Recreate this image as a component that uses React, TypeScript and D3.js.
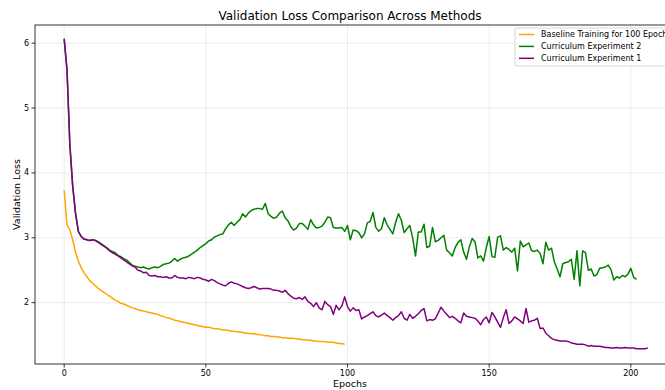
import { useEffect, useRef } from "react";
import * as d3 from "d3";

const baseline = [
  3.73, 3.2, 3.12, 2.97, 2.78, 2.64, 2.54, 2.46, 2.4, 2.34,
  2.3, 2.26, 2.22, 2.19, 2.16, 2.13, 2.1, 2.07, 2.04, 2.02,
  1.99, 1.98, 1.96, 1.94, 1.92, 1.91, 1.89, 1.88, 1.87, 1.86,
  1.85, 1.84, 1.83, 1.82, 1.8, 1.79, 1.77, 1.76, 1.75, 1.73,
  1.72, 1.71, 1.7, 1.69, 1.68, 1.67, 1.66, 1.65, 1.64, 1.63,
  1.62, 1.62, 1.61, 1.6, 1.6, 1.59, 1.58, 1.58, 1.57, 1.56,
  1.56, 1.55, 1.55, 1.54, 1.53, 1.53, 1.52, 1.52, 1.51, 1.51,
  1.5, 1.49, 1.49, 1.48, 1.48, 1.47, 1.47, 1.46, 1.46, 1.45,
  1.45, 1.45, 1.44, 1.44, 1.43, 1.43, 1.42, 1.42, 1.41, 1.41,
  1.4, 1.4, 1.4, 1.39, 1.39, 1.39, 1.38, 1.37, 1.37, 1.36,
];

const curriculum2 = [
  6.06, 5.58, 4.43, 3.8, 3.38, 3.1, 3.02, 2.98, 2.97, 2.96,
  2.97, 2.96, 2.94, 2.91, 2.88, 2.85, 2.81, 2.79, 2.77, 2.73,
  2.71, 2.68, 2.66, 2.62, 2.58, 2.56, 2.55, 2.54, 2.55, 2.53,
  2.52, 2.54, 2.55, 2.54, 2.56, 2.59, 2.6, 2.61, 2.64, 2.68,
  2.64, 2.67, 2.69, 2.7, 2.72, 2.75, 2.78, 2.81, 2.85, 2.88,
  2.91, 2.95, 2.97, 3.01, 3.03, 3.05, 3.06, 3.14, 3.2, 3.24,
  3.19, 3.24, 3.28, 3.37, 3.32, 3.38, 3.42, 3.44, 3.45, 3.45,
  3.44, 3.53, 3.37, 3.33, 3.3, 3.32, 3.38, 3.41, 3.31, 3.26,
  3.17, 3.12, 3.15, 3.22, 3.22, 3.18, 3.13, 3.28, 3.2, 3.15,
  3.16, 3.18, 3.24, 3.32, 3.31, 3.16, 3.15, 3.15, 3.16, 3.1,
  3.19, 2.97, 3.12, 3.11, 3.08, 3.0, 3.06, 3.23, 3.25, 3.39,
  3.16, 3.1, 3.14, 3.31, 3.2, 3.13, 3.06, 3.24, 3.37, 3.27,
  3.08, 3.14, 3.19, 3.0, 2.72, 3.09, 3.09, 3.21, 2.85, 2.87,
  3.16, 2.94, 2.96, 3.0, 3.04, 2.81, 2.77, 2.72, 2.85, 2.93,
  2.97, 2.78, 2.67, 2.86, 2.99, 2.94, 2.69, 2.72, 2.64, 2.85,
  3.02, 2.71, 2.7, 3.01, 3.03, 2.81, 2.85, 2.82, 2.78, 2.84,
  2.49, 2.95, 2.86, 2.89, 2.92, 2.8, 2.79, 2.81, 2.76, 2.6,
  2.93, 2.81, 2.84, 2.63, 2.52, 2.4, 2.6, 2.62, 2.63, 2.67,
  2.36, 2.8, 2.26, 2.8, 2.77, 2.5, 2.52, 2.41, 2.43, 2.53,
  2.54, 2.55, 2.58, 2.51, 2.35, 2.4, 2.38, 2.42, 2.4, 2.44,
  2.53, 2.39, 2.36,
];

const curriculum1 = [
  6.07, 5.59, 4.45, 3.8, 3.38, 3.1, 3.02, 2.98, 2.97, 2.96,
  2.97, 2.96, 2.93, 2.9, 2.87, 2.84, 2.8, 2.77, 2.75, 2.72,
  2.69, 2.66, 2.63, 2.6, 2.57, 2.55, 2.5, 2.49, 2.46, 2.47,
  2.42, 2.41, 2.42, 2.4, 2.4, 2.39, 2.4, 2.38, 2.38, 2.42,
  2.39, 2.38, 2.38, 2.37, 2.39, 2.38, 2.37, 2.39, 2.38, 2.36,
  2.35, 2.33, 2.36, 2.34, 2.31, 2.29, 2.27, 2.26, 2.3, 2.32,
  2.3, 2.29, 2.27, 2.25, 2.23, 2.22, 2.23, 2.25, 2.23, 2.21,
  2.22, 2.22, 2.22, 2.21, 2.19, 2.19, 2.18, 2.16, 2.19, 2.14,
  2.1, 2.07, 2.06, 2.08, 2.05, 2.09, 2.02, 1.99, 1.94, 2.0,
  1.92, 1.89, 2.02, 1.97, 1.94, 1.82, 1.96, 1.89, 1.95, 2.09,
  1.94, 1.87, 1.92, 1.88, 1.89, 1.75, 1.78, 1.8, 1.83, 1.86,
  1.8, 1.78, 1.81, 1.84, 1.8, 1.77, 1.73, 1.77, 1.8, 1.86,
  1.76, 1.73, 1.82, 1.76, 1.79, 1.83, 1.88, 1.91, 1.72, 1.74,
  1.73, 1.75, 1.84, 1.93, 1.87, 1.82, 1.77, 1.79, 1.76, 1.72,
  1.69, 1.84, 1.79, 1.78, 1.77, 1.76, 1.72, 1.66, 1.74, 1.78,
  1.69, 1.85, 1.78, 1.7, 1.62, 1.77, 1.89, 1.68, 1.72, 1.78,
  1.75, 1.72, 1.68, 1.91, 1.7, 1.72, 1.73, 1.76, 1.6, 1.61,
  1.53, 1.49, 1.45, 1.43, 1.42, 1.41, 1.41, 1.41, 1.4, 1.38,
  1.37, 1.36, 1.36, 1.36, 1.35, 1.33, 1.34, 1.33, 1.33, 1.33,
  1.32, 1.31, 1.31, 1.3, 1.3, 1.31, 1.3, 1.3, 1.31, 1.3,
  1.3, 1.3, 1.29, 1.29, 1.29, 1.29, 1.3,
];

const seriesNames = ["Baseline Training for 100 Epochs", "Curriculum Experiment 2", "Curriculum Experiment 1"];
const seriesColors = ["orange", "green", "purple"];
const xTicks = [0, 50, 100, 150, 200];
const yTicks = [2, 3, 4, 5, 6];

export default function App() {
  const svgRef = useRef<SVGSVGElement>(null);

  useEffect(() => {
    const svg = d3.select(svgRef.current);
    svg.selectAll("*").remove();

    const width = 665, height = 390;
    const left = 35, top = 25, right = 677, bottom = 364;
    const font = "DejaVu Sans, sans-serif";

    const x = d3.scaleLinear().domain([-10.3, 216.3]).range([left, right]);
    const y = d3.scaleLinear().domain([1.055, 6.28]).range([bottom, top]);

    svg.attr("width", width).attr("height", height);
    svg.append("rect").attr("width", width).attr("height", height).attr("fill", "#fff");

    const g = svg.append("g");

    // grid
    g.selectAll(".gx").data(xTicks).enter().append("line")
      .attr("x1", d => x(d)).attr("x2", d => x(d)).attr("y1", top).attr("y2", bottom)
      .attr("stroke", "#b0b0b0").attr("stroke-opacity", 0.3).attr("stroke-width", 0.8);
    g.selectAll(".gy").data(yTicks).enter().append("line")
      .attr("x1", left).attr("x2", right).attr("y1", d => y(d)).attr("y2", d => y(d))
      .attr("stroke", "#b0b0b0").attr("stroke-opacity", 0.3).attr("stroke-width", 0.8);

    const line = d3.line<number>().x((_, i) => x(i)).y(d => y(d));
    [baseline, curriculum2, curriculum1].forEach((s, i) => {
      g.append("path").datum(s)
        .attr("fill", "none").attr("stroke", seriesColors[i]).attr("stroke-width", 1.5)
        .attr("stroke-linejoin", "round").attr("d", line);
    });

    // frame
    g.append("rect").attr("x", left).attr("y", top).attr("width", right - left).attr("height", bottom - top)
      .attr("fill", "none").attr("stroke", "#000").attr("stroke-width", 0.8);

    // ticks
    const xt = g.selectAll(".xt").data(xTicks).enter().append("g")
      .attr("transform", d => `translate(${x(d)},${bottom})`);
    xt.append("line").attr("y2", 3.5).attr("stroke", "#000").attr("stroke-width", 0.8);
    xt.append("text").attr("y", 11.5).attr("text-anchor", "middle")
      .style("font-family", font).style("font-size", "8px").text(d => d);

    const yt = g.selectAll(".yt").data(yTicks).enter().append("g")
      .attr("transform", d => `translate(${left},${y(d)})`);
    yt.append("line").attr("x2", -3.5).attr("stroke", "#000").attr("stroke-width", 0.8);
    yt.append("text").attr("x", -6).attr("dy", "0.32em").attr("text-anchor", "end")
      .style("font-family", font).style("font-size", "8px").text(d => d);

    svg.append("text").attr("x", 350).attr("y", 20).attr("text-anchor", "middle")
      .style("font-family", font).style("font-size", "12px").text("Validation Loss Comparison Across Methods");
    svg.append("text").attr("x", 350).attr("y", 387).attr("text-anchor", "middle")
      .style("font-family", font).style("font-size", "9.5px").text("Epochs");
    svg.append("text").attr("transform", `translate(20,${(top + bottom) / 2}) rotate(-90)`)
      .attr("text-anchor", "middle")
      .style("font-family", font).style("font-size", "9.5px").text("Validation Loss");

    // legend
    const lg = svg.append("g");
    lg.append("rect").attr("x", 515).attr("y", 28).attr("width", 170).attr("height", 38).attr("rx", 2)
      .attr("fill", "#fff").attr("fill-opacity", 0.8).attr("stroke", "#cccccc").attr("stroke-width", 0.8);
    seriesNames.forEach((name, i) => {
      const yy = 34.5 + i * 11.9;
      lg.append("line").attr("x1", 519).attr("x2", 534).attr("y1", yy).attr("y2", yy)
        .attr("stroke", seriesColors[i]).attr("stroke-width", 1.5);
      lg.append("text").attr("x", 541).attr("y", yy).attr("dy", "0.35em")
        .style("font-family", font).style("font-size", "8px").text(name);
    });
  }, []);

  return <svg ref={svgRef} style={{ position: "absolute", left: 0, top: 0 }} />;
}
